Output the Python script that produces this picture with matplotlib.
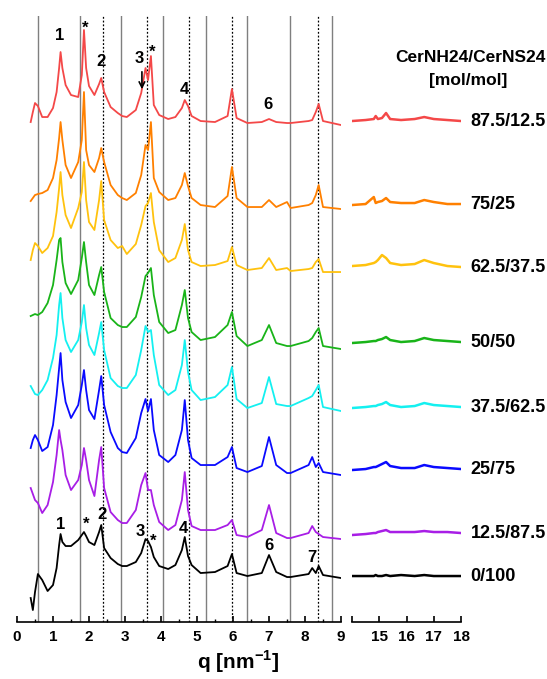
import matplotlib.pyplot as plt
from matplotlib.ticker import MultipleLocator, FixedLocator

plt.rcParams['font.family'] = ['Liberation Sans', 'DejaVu Sans']
plt.rcParams['font.weight'] = 'bold'
plt.rcParams['mathtext.fontset'] = 'custom'
plt.rcParams['mathtext.rm'] = 'Liberation Sans:bold'
plt.rcParams['mathtext.bf'] = 'Liberation Sans:bold'

# sample ratios CerNH24/CerNS24, top to bottom
samples = ['87.5/12.5', '75/25', '62.5/37.5', '50/50',
           '37.5/62.5', '25/75', '12.5/87.5', '0/100']
colors = ['#f44848', '#ff8000', '#ffc20e', '#19b419',
          '#14f0f0', '#0a0aff', '#a81ee6', '#000000']

# SAXS region, stacked intensity (a.u.)
q_saxs = [0.38, 0.44, 0.5, 0.58, 0.7, 0.85, 1.0, 1.1, 1.17, 1.21, 1.26, 1.35,
          1.5, 1.7, 1.8, 1.86, 1.92, 2.0, 2.15, 2.28, 2.34, 2.42, 2.6, 2.8,
          2.92, 3.05, 3.3, 3.45, 3.57, 3.64, 3.72, 3.8, 3.95, 4.2, 4.4, 4.58,
          4.66, 4.75, 4.85, 5.1, 5.5, 5.85, 5.97, 6.1, 6.4, 6.8, 7.0, 7.2,
          7.5, 7.6, 8.1, 8.2, 8.3, 8.38, 8.5, 9.0]
I_875 = [500, 510, 519, 516, 505, 505, 514, 530, 554, 570, 554, 537, 527, 525,
         547, 592, 554, 536, 527, 538, 544, 530, 515, 509, 506, 505, 512, 529,
         554, 542, 566, 517, 507, 503, 505, 514, 522, 516, 506, 501, 500, 506,
         533, 504, 499, 500, 503, 500, 499, 499, 501, 502, 510, 518, 501, 497]
I_75 = [421, 424, 427, 428, 429, 432, 444, 462, 484, 500, 482, 457, 444, 460,
        482, 530, 472, 457, 450, 464, 474, 460, 437, 427, 424, 422, 429, 447,
        477, 472, 500, 444, 430, 422, 424, 437, 449, 436, 424, 417, 415, 426,
        455, 424, 415, 415, 422, 415, 420, 414, 417, 419, 427, 437, 415, 413]
I_625 = [362, 372, 379, 376, 369, 374, 386, 410, 434, 450, 427, 407, 394, 414,
         430, 460, 422, 400, 392, 422, 441, 402, 382, 374, 376, 368, 378, 397,
         416, 419, 429, 400, 372, 360, 364, 382, 398, 372, 360, 356, 357, 361,
         375, 357, 352, 354, 364, 352, 354, 351, 353, 354, 360, 363, 350, 350]
I_50 = [306, 307, 308, 307, 310, 319, 337, 362, 382, 384, 360, 339, 328, 342,
        364, 380, 360, 337, 327, 347, 355, 330, 304, 297, 295, 295, 305, 325,
        346, 349, 354, 327, 300, 289, 292, 317, 332, 304, 290, 282, 285, 297,
        310, 286, 276, 282, 297, 279, 276, 276, 281, 284, 290, 294, 276, 273]
I_375 = [236, 232, 228, 227, 232, 242, 264, 287, 317, 329, 304, 282, 270, 282,
         300, 317, 294, 277, 267, 289, 300, 272, 244, 236, 234, 234, 247, 272,
         296, 290, 292, 267, 237, 227, 232, 257, 282, 250, 232, 222, 225, 237,
         255, 223, 214, 219, 245, 218, 216, 216, 224, 226, 232, 237, 215, 211]
I_25 = [174, 182, 187, 182, 171, 175, 197, 227, 254, 269, 242, 220, 204, 217,
        237, 252, 232, 212, 203, 232, 246, 217, 190, 174, 170, 169, 184, 209,
        223, 211, 223, 192, 167, 160, 167, 192, 222, 182, 164, 157, 157, 165,
        175, 154, 150, 156, 185, 157, 149, 149, 157, 165, 155, 159, 150, 147]
I_125 = [134, 128, 122, 119, 109, 117, 140, 167, 192, 182, 172, 147, 132, 142,
         157, 174, 162, 142, 126, 162, 175, 134, 110, 102, 99, 99, 112, 137,
         149, 132, 132, 117, 100, 92, 97, 122, 150, 112, 96, 92, 92, 97, 102,
         87, 85, 92, 117, 89, 84, 84, 89, 96, 90, 88, 85, 83]
I_0 = [24, 12, 30, 48, 42, 31, 37, 54, 77, 88, 80, 76, 76, 82, 87, 90, 86, 80,
       77, 90, 97, 74, 64, 58, 56, 56, 60, 69, 83, 81, 75, 65, 56, 53, 57, 72,
       85, 66, 57, 49, 50, 56, 68, 49, 46, 49, 67, 50, 45, 45, 48, 54, 49, 56,
       47, 44]
saxs = [I_875, I_75, I_625, I_50, I_375, I_25, I_125, I_0]

# WAXS region
q_waxs = [14.0, 14.5, 14.8, 14.87, 14.95, 15.1, 15.25, 15.4, 15.8, 16.3,
          16.65, 17.0, 17.5, 18.0]
W_875 = [501, 502, 503, 506, 503, 504, 509, 503, 502, 503, 505, 503, 502, 501]
W_75 = [417, 418, 425, 419, 420, 421, 424, 420, 419, 419, 422, 420, 418, 418]
W_625 = [356, 357, 359, 360, 362, 367, 364, 359, 357, 358, 362, 359, 356, 355]
W_50 = [279, 280, 281, 281, 282, 283, 285, 282, 280, 281, 284, 282, 281, 280]
W_375 = [214, 215, 216, 216, 217, 218, 220, 217, 215, 216, 219, 217, 216, 215]
W_25 = [152, 153, 155, 155, 156, 158, 160, 156, 154, 154, 157, 155, 154, 153]
W_125 = [87, 88, 89, 89, 90, 91, 92, 90, 90, 90, 91, 90, 90, 89]
W_0 = [46, 46, 46, 47, 46, 46, 47, 46, 47, 46, 47, 46, 46, 46]
waxs = [W_875, W_75, W_625, W_50, W_375, W_25, W_125, W_0]

# lamellar peak positions
lines_solid = [0.58, 1.75, 2.89, 4.06, 5.24, 6.39, 7.58, 8.75]
lines_dotted = [2.40, 3.60, 4.79, 5.98, 8.37]

# peak labels (text, q, intensity)
peak_labels = [('1', 1.19, 587), ('*', 1.89, 594), ('2', 2.33, 561),
               ('3', 3.39, 564), ('*', 3.75, 570),
               ('4', 4.64, 533), ('6', 6.97, 518),
               ('1', 1.22, 98), ('*', 1.92, 98), ('2', 2.36, 108),
               ('3', 3.42, 91), ('*', 3.78, 81), ('4', 4.61, 94),
               ('6', 7.0, 77), ('7', 8.19, 65)]

fig = plt.figure(figsize=(5.47, 6.79), dpi=100)
ax1 = fig.add_axes([0.0311, 0.0839, 0.5923, 0.8925])
ax2 = fig.add_axes([0.6435, 0.0839, 0.1993, 0.8925])

for q in lines_solid:
    ax1.axvline(q, color='#7f7f7f', lw=1.0, zorder=1)
for q in lines_dotted:
    ax1.axvline(q, color='black', lw=0.9, ls=(0, (1.5, 1.5)), zorder=1)

for I, W, c in zip(saxs, waxs, colors):
    ax1.plot(q_saxs, I, color=c, lw=1.3, zorder=3)
    ax2.plot(q_waxs, W, color=c, lw=1.8, zorder=3)

for t, q, y in peak_labels:
    ax1.text(q, y, t, ha='center', va='center', fontsize=12, fontweight='bold')
# arrow under peak 3 of the top curve
ax1.annotate('', xy=(3.47, 530), xytext=(3.47, 553),
             arrowprops=dict(arrowstyle='->', lw=1.2, color='black'))

for ax in (ax1, ax2):
    ax.set_ylim(0, 606)
    ax.set_yticks([])
    for sp in ('left', 'right', 'top'):
        ax.spines[sp].set_visible(False)
    ax.spines['bottom'].set_linewidth(1.2)
    ax.patch.set_alpha(0)
    ax.tick_params(axis='x', which='major', direction='in', length=4,
                   width=1.2, labelsize=11, pad=6)
    ax.tick_params(axis='x', which='minor', direction='in', length=2.5,
                   width=1.0)

ax1.set_xlim(0, 9)
ax1.xaxis.set_major_locator(MultipleLocator(1))
ax1.xaxis.set_minor_locator(MultipleLocator(0.5))
ax2.set_xlim(14, 18)
ax2.xaxis.set_major_locator(FixedLocator([14, 15, 16, 17, 18]))
ax2.set_xticklabels(['', '15', '16', '17', '18'])
for ax in (ax1, ax2):
    for lab in ax.get_xticklabels():
        lab.set_fontweight('bold')

# sample labels at right, placed at each WAXS curve level
for W, s in zip(waxs, samples):
    ax2.annotate(s, xy=(1.0, W[-1]), xycoords=('axes fraction', 'data'),
                 xytext=(7, 0), textcoords='offset points',
                 ha='left', va='center', fontsize=13, fontweight='bold')

fig.text(0.86, 0.916, 'CerNH24/CerNS24', ha='center', va='center',
         fontsize=12.5, fontweight='bold')
fig.text(0.856, 0.882, '[mol/mol]', ha='center', va='center',
         fontsize=12.5, fontweight='bold')
fig.text(0.435, 0.025, r'q [nm$^{\mathbf{-1}}$]', ha='center', va='center',
         fontsize=15, fontweight='bold')

fig.savefig('out.png', dpi=100)
